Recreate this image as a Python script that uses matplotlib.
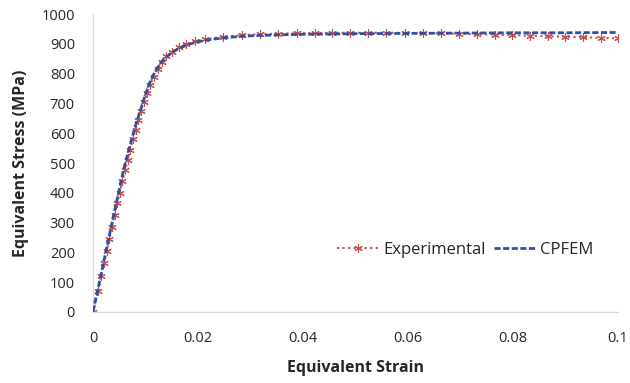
import matplotlib
matplotlib.use("Agg")
from matplotlib import pyplot as plt

plt.rcParams["font.family"] = ["Open Sans", "DejaVu Sans"]

exp_strain = [0, 0.0010, 0.0016, 0.0021, 0.0026, 0.0031, 0.0036, 0.0041, 0.0046,
              0.0051, 0.0056, 0.0061, 0.0066, 0.0071, 0.0076, 0.0081, 0.0086,
              0.0091, 0.0097, 0.0103, 0.0109, 0.0116, 0.0123, 0.0131, 0.0140,
              0.0150, 0.0163, 0.0178, 0.0195, 0.0213, 0.0248, 0.0283, 0.0318,
              0.0353, 0.0388, 0.0422, 0.0456, 0.0490, 0.0524, 0.0559, 0.0594,
              0.0629, 0.0663, 0.0697, 0.0731, 0.0765, 0.0799, 0.0833, 0.0866,
              0.0900, 0.0934, 0.0968, 0.1000]
exp_stress = [0, 70, 120, 165, 205, 245, 285, 325, 365,
              400, 440, 475, 510, 545, 580, 612, 645,
              675, 705, 735, 762, 790, 815, 838, 858,
              873, 888, 900, 908, 915, 924, 929, 932,
              934, 935, 936, 937, 937, 937, 937, 937,
              936, 935, 934, 932, 931, 929, 927, 925,
              924, 922, 920, 918]

# CPFEM simulation
sim_strain = [0, 0.002, 0.004, 0.006, 0.008, 0.009, 0.010, 0.011, 0.012, 0.013,
              0.014, 0.015, 0.016, 0.018, 0.020, 0.023, 0.026, 0.030, 0.035,
              0.040, 0.050, 0.060, 0.070, 0.080, 0.090, 0.100]
sim_stress = [0, 165, 330, 490, 620, 675, 730, 778, 812, 838,
              856, 870, 881, 897, 907, 916, 922, 927, 930,
              932, 934, 935, 936, 937, 937, 938]

x_ticks = [0, 0.02, 0.04, 0.06, 0.08, 0.1]
x_tick_labels = ["0", "0.02", "0.04", "0.06", "0.08", "0.1"]
y_ticks = list(range(0, 1001, 100))

fig = plt.figure(figsize=(6.3, 3.83), dpi=100)
ax = fig.add_axes([0.1476, 0.1854, 0.8333, 0.778])

ax.plot(exp_strain, exp_stress, color="#C0504D", linestyle=":", linewidth=1.5,
        marker=(6, 2, 0), markersize=6, markeredgewidth=0.8,
        markeredgecolor="#C0504D", label="Experimental", zorder=2)
ax.plot(sim_strain, sim_stress, color="#2F4FA2", linestyle=(0, (2.2, 0.9)),
        linewidth=2.0, label="CPFEM", zorder=3)

ax.set_xlim(0, 0.1)
ax.set_ylim(0, 1000)
ax.set_xticks(x_ticks)
ax.set_xticklabels(x_tick_labels)
ax.set_yticks(y_ticks)
ax.tick_params(length=0, labelsize=10.5, colors="#262626")
ax.tick_params(axis="x", pad=14)
ax.tick_params(axis="y", pad=13)

for side in ("top", "right"):
    ax.spines[side].set_visible(False)
for side in ("left", "bottom"):
    ax.spines[side].set_color("#d9d9d9")
    ax.spines[side].set_linewidth(1.0)

ax.set_xlabel("Equivalent Strain", fontsize=11.5, fontweight="bold",
              color="#262626", labelpad=10)
ax.set_ylabel("Equivalent Stress (MPa)", fontsize=11.5, fontweight="bold",
              color="#262626", labelpad=9)

ax.legend(loc="center", bbox_to_anchor=(0.709, 0.208), ncol=2, frameon=False,
          fontsize=12, handlelength=2.45, columnspacing=0.5, handletextpad=0.3,
          labelcolor="#262626")

fig.savefig("out.png", dpi=100)
